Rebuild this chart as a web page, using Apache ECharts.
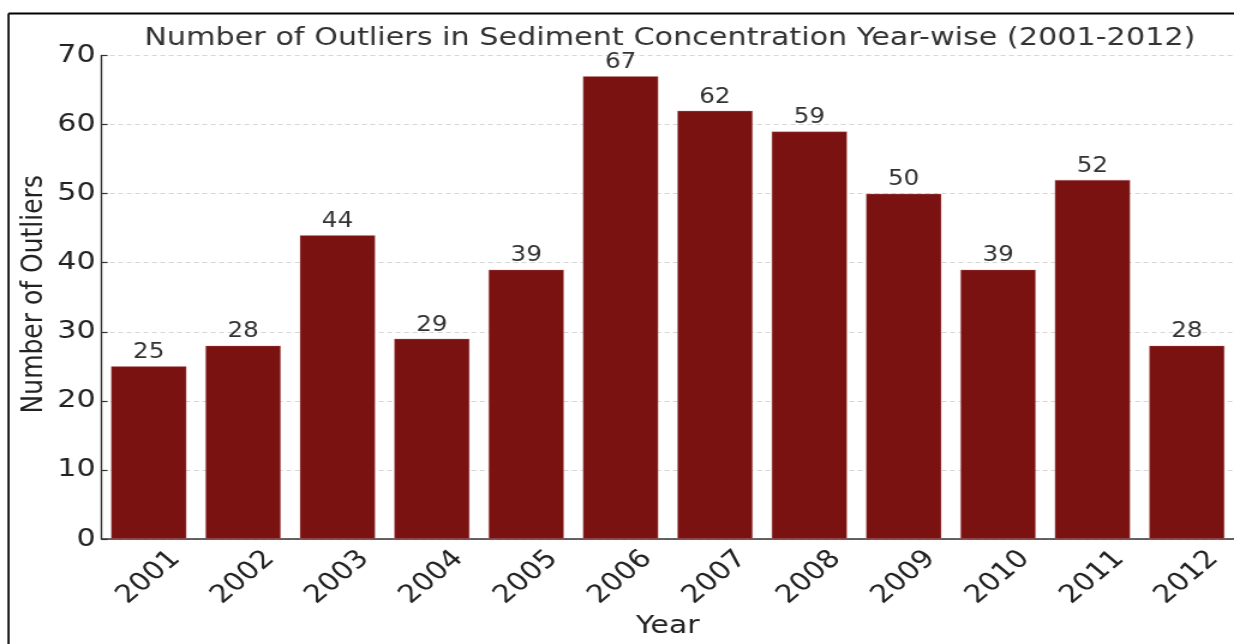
<!DOCTYPE html>
<html>
<head>
<meta charset="utf-8">
<script src="https://cdn.jsdelivr.net/npm/echarts@6/dist/echarts.min.js"></script>
<style>
  html, body { margin: 0; padding: 0; background: #fff; overflow: hidden; }
  /* The figure is drawn narrower and widened horizontally to 1234px */
  #chart { width: 1028px; height: 644px; transform: scaleX(1.2004); transform-origin: 0 0; }
</style>
</head>
<body>
<div id="chart"></div>
<script>
// Outlier counts per year
const years = ['2001', '2002', '2003', '2004', '2005', '2006', '2007', '2008', '2009', '2010', '2011', '2012'];
const outlierCounts = [25, 28, 44, 29, 39, 67, 62, 59, 50, 39, 52, 28];
const yTicks = [0, 10, 20, 30, 40, 50, 60, 70];

const FONT = 'DejaVu Sans';
const chart = echarts.init(document.getElementById('chart'), null, { renderer: 'canvas' });

chart.setOption({
  backgroundColor: '#ffffff',
  animation: false,
  title: {
    text: 'Number of Outliers in Sediment Concentration Year-wise (2001-2012)',
    left: 553, top: 21, textAlign: 'center',
    textStyle: { fontFamily: FONT, fontSize: 25.2, fontWeight: 'normal', color: '#333333' }
  },
  grid: { left: 84.6, right: 0, top: 55.5, bottom: 105, containLabel: false, outerBoundsMode: 'none' },
  xAxis: {
    type: 'category',
    data: years,
    boundaryGap: true,
    name: 'Year',
    nameLocation: 'middle',
    nameGap: 75,
    nameMoveOverlap: false,
    nameTextStyle: { fontFamily: FONT, fontSize: 25, color: '#222222' },
    axisLine: { lineStyle: { color: '#333333', width: 1.5 } },
    axisTick: { alignWithLabel: true, inside: true, length: 5, lineStyle: { color: '#333333', width: 1 } },
    axisLabel: {
      rotate: 45, margin: 38.5, align: 'center', verticalAlign: 'middle',
      fontFamily: FONT, fontSize: 25, color: '#222222'
    },
    splitLine: { show: false }
  },
  yAxis: {
    type: 'value',
    min: yTicks[0], max: yTicks[yTicks.length - 1], interval: 10,
    name: 'Number of Outliers',
    nameLocation: 'middle',
    nameGap: 44,
    nameRotate: 90,
    nameMoveOverlap: false,
    nameTextStyle: { fontFamily: FONT, fontSize: 25, color: '#222222', padding: [0, 0, 0, 6] },
    axisLine: { show: true, lineStyle: { color: '#333333', width: 1.4 } },
    axisTick: { show: true, inside: true, length: 5, lineStyle: { color: '#333333', width: 1.2 } },
    axisLabel: { margin: 5, fontFamily: FONT, fontSize: 25, color: '#222222' },
    splitLine: { show: true, lineStyle: { color: '#cccccc', type: [4, 3], width: 0.8 } }
  },
  series: [{
    type: 'bar',
    data: outlierCounts,
    barWidth: '80%',
    itemStyle: { color: '#7a1212', borderColor: 'rgba(200,140,140,0.6)', borderWidth: 0.6 },
    label: {
      show: true, position: 'top', distance: 3,
      fontFamily: FONT, fontSize: 20.5, color: '#333333'
    }
  }],
  graphic: [
    { type: 'line', shape: { x1: 7.1, y1: 13.5, x2: 1028, y2: 13.5 }, style: { stroke: '#000', lineWidth: 2 }, z: 100 },
    { type: 'line', shape: { x1: 7.1, y1: 13.5, x2: 7.1, y2: 644 }, style: { stroke: '#000', lineWidth: 1.7 }, z: 100 }
  ]
});
</script>
</body>
</html>
